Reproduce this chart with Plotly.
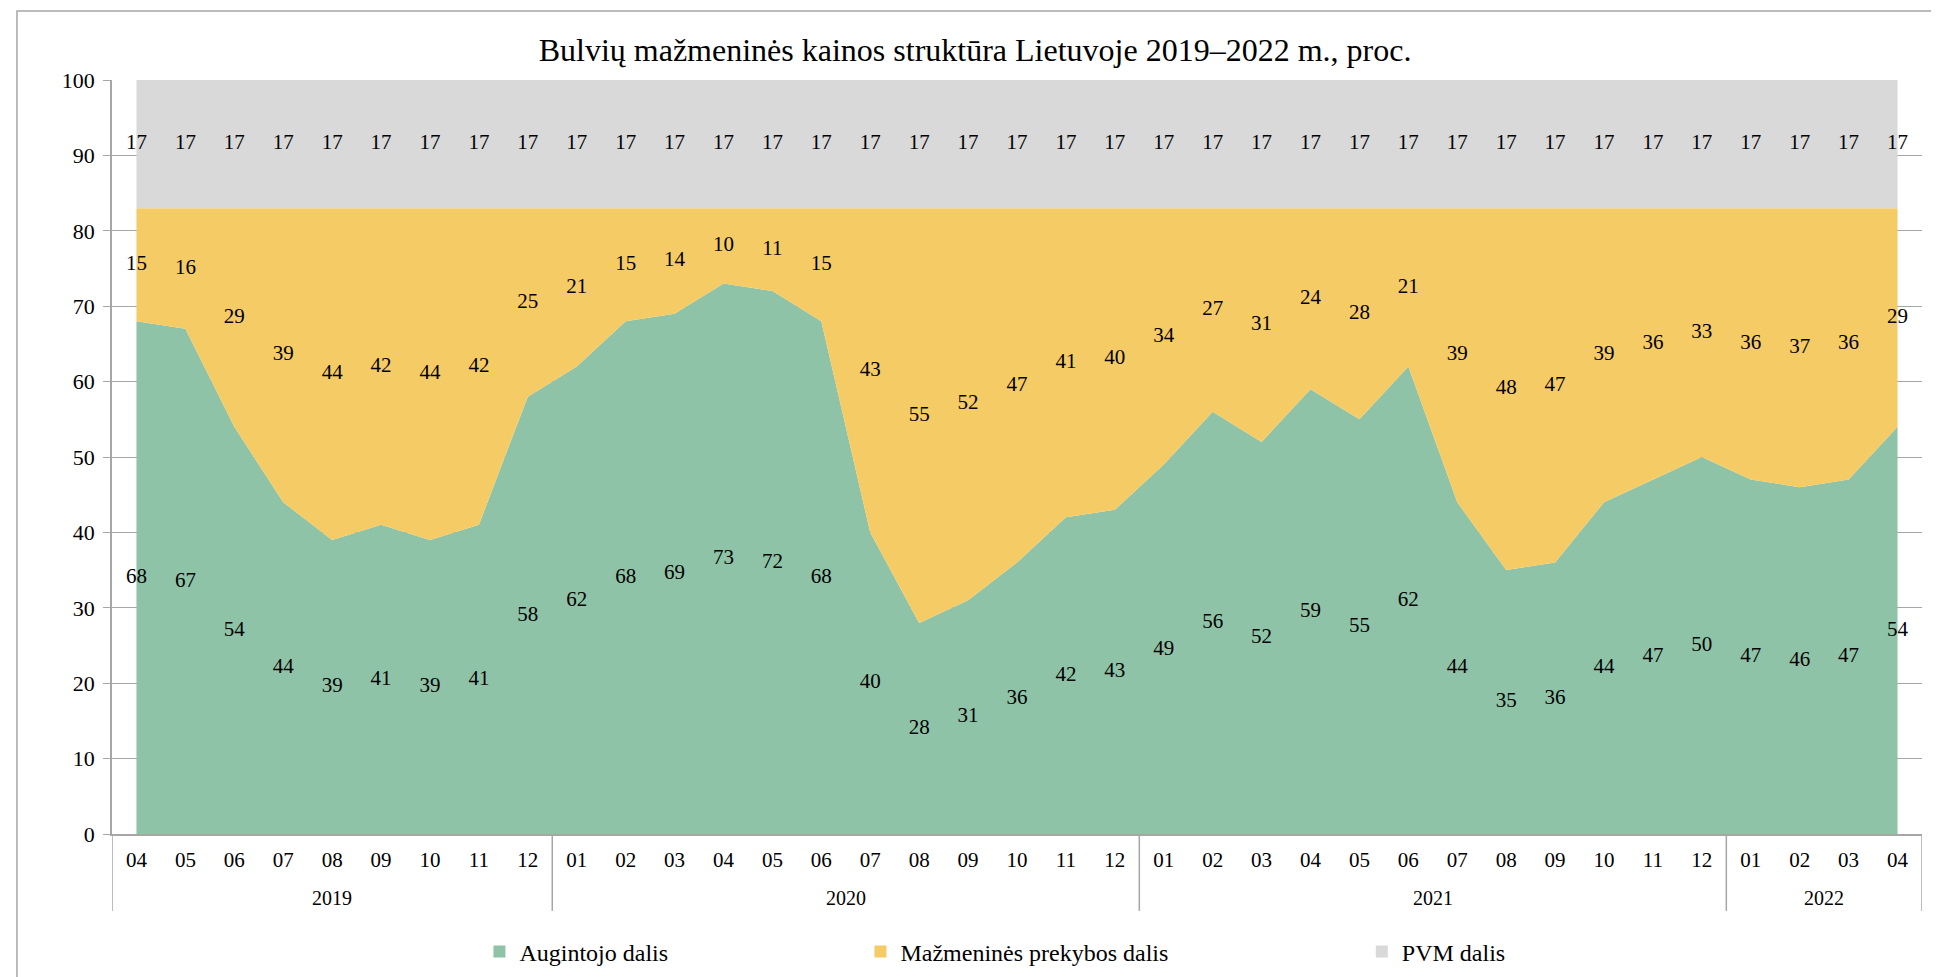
import plotly.graph_objects as go

# Category labels (months grouped by year)
months = ["04", "05", "06", "07", "08", "09", "10", "11", "12",
          "01", "02", "03", "04", "05", "06", "07", "08", "09", "10", "11", "12",
          "01", "02", "03", "04", "05", "06", "07", "08", "09", "10", "11", "12",
          "01", "02", "03", "04"]
years = ["2019"] * 9 + ["2020"] * 12 + ["2021"] * 12 + ["2022"] * 4

# Shares, %
augintojo = [68, 67, 54, 44, 39, 41, 39, 41, 58,
             62, 68, 69, 73, 72, 68, 40, 28, 31, 36, 42, 43,
             49, 56, 52, 59, 55, 62, 44, 35, 36, 44, 47, 50,
             47, 46, 47, 54]
mazmenines = [15, 16, 29, 39, 44, 42, 44, 42, 25,
              21, 15, 14, 10, 11, 15, 43, 55, 52, 47, 41, 40,
              34, 27, 31, 24, 28, 21, 39, 48, 47, 39, 36, 33,
              36, 37, 36, 29]
pvm = [17] * 37

names = ["Augintojo dalis", "Mažmeninės prekybos dalis", "PVM dalis"]
colors = ["#8FC3A7", "#F5CB65", "#D9D9D9"]

FONT = "Liberation Serif"
GRID = "#A6A6A6"

# unique category per month, shown with the month number only
cats = [f"{y}-{m}" for y, m in zip(years, months)]

fig = go.Figure()

series = [augintojo, mazmenines, pvm]
for vals, name, col in zip(series, names, colors):
    fig.add_trace(go.Scatter(
        x=cats, y=vals, name=name, stackgroup="one", mode="lines",
        line=dict(width=0, color=col), fillcolor=col, showlegend=False,
        hoverinfo="skip",
    ))

# data labels at the middle of each band
base = [0] * len(cats)
for vals in series:
    mids = [b + v / 2 for b, v in zip(base, vals)]
    fig.add_trace(go.Scatter(
        x=cats, y=mids, mode="text", text=[str(v) for v in vals],
        textfont=dict(family=FONT, size=21, color="#000000"),
        showlegend=False, hoverinfo="skip",
    ))
    base = [b + v for b, v in zip(base, vals)]

# legend entries (each in its own legend to place them like the original)
legend_keys = ["legend", "legend2", "legend3"]
for name, col, key in zip(names, colors, legend_keys):
    fig.add_trace(go.Scatter(
        x=[cats[0]], y=[None], mode="markers", name=name,
        marker=dict(symbol="square", size=12, color=col),
        legend=key, showlegend=True,
    ))

# year groups: labels under the months and divider lines between years
shapes = []
annotations = []
groups = []
for i, y in enumerate(years):
    if not groups or groups[-1][0] != y:
        groups.append([y, i, i])
    else:
        groups[-1][2] = i
for y, i0, i1 in groups:
    annotations.append(dict(
        x=(i0 + i1) / 2, xref="x", y=-0.085, yref="paper", text=y,
        showarrow=False, yanchor="middle",
        font=dict(family=FONT, size=20, color="#000000")))
    shapes.append(dict(type="line", xref="x", yref="paper",
                       x0=i0 - 0.5, x1=i0 - 0.5, y0=0, y1=-0.102,
                       line=dict(color=GRID, width=1.5)))
shapes.append(dict(type="line", xref="x", yref="paper",
                   x0=groups[-1][2] + 0.5, x1=groups[-1][2] + 0.5, y0=0, y1=-0.102,
                   line=dict(color=GRID, width=1.5)))
# outer chart frame
shapes.append(dict(type="rect", xref="paper", yref="paper",
                   x0=-0.0525, x1=1.06, y0=-0.3, y1=1.0915,
                   line=dict(color=GRID, width=1.5), fillcolor="rgba(0,0,0,0)",
                   layer="below"))

leg = dict(orientation="h", yanchor="middle", y=-0.1565, xanchor="left",
           font=dict(family=FONT, size=24, color="#000000"),
           bgcolor="rgba(0,0,0,0)", itemwidth=30)

fig.update_layout(
    width=1931, height=969,
    margin=dict(l=104, r=17, t=72, b=143, autoexpand=False),
    paper_bgcolor="white", plot_bgcolor="white",
    font=dict(family=FONT, size=20, color="#000000"),
    title=dict(text="Bulvių mažmeninės kainos struktūra Lietuvoje 2019–2022 m., proc.",
               x=0.5008, xanchor="center", y=0.957, yanchor="middle",
               automargin=False,
               font=dict(family=FONT, size=32, color="#000000")),
    legend=dict(leg, x=0.203),
    legend2=dict(leg, x=0.4135),
    legend3=dict(leg, x=0.6905),
    xaxis=dict(type="category", range=[-0.5, len(cats) - 0.5],
               tickvals=cats, ticktext=months,
               showline=True, linecolor=GRID, linewidth=1.5,
               ticks="", showgrid=False, ticklabelstandoff=6,
               tickfont=dict(family=FONT, size=21, color="#000000")),
    yaxis=dict(range=[0, 100], dtick=10, showgrid=True, gridcolor=GRID,
               gridwidth=1, showline=True, linecolor=GRID, linewidth=1.5,
               ticks="outside", ticklen=7, tickcolor=GRID,
               zeroline=False, ticklabelstandoff=4,
               tickfont=dict(family=FONT, size=22, color="#000000")),
    shapes=shapes,
    annotations=annotations,
)

fig.write_html("out.html")
